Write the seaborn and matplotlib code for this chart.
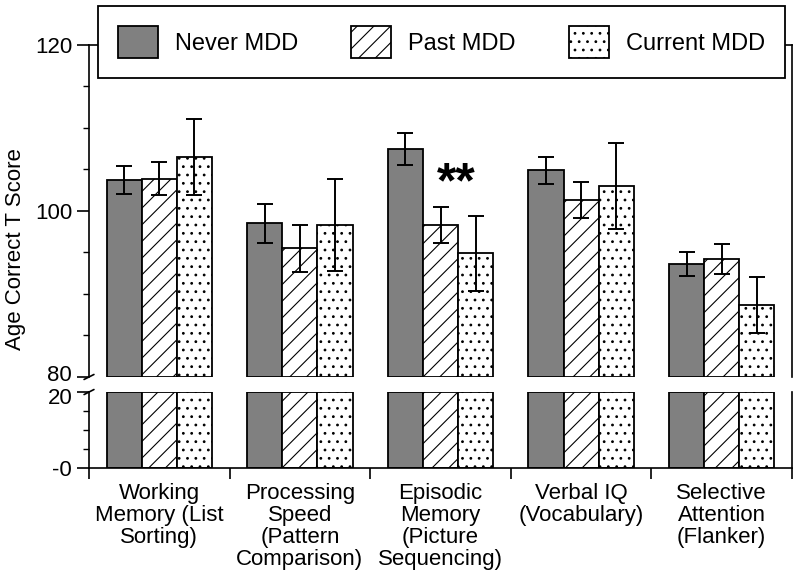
import numpy as np
import pandas as pd
import seaborn as sns
import matplotlib.pyplot as plt
import matplotlib.transforms as mtransforms
from matplotlib.patches import Patch

domains = ["Working\nMemory (List\nSorting)", "Processing\nSpeed\n(Pattern\nComparison)",
           "Episodic\nMemory\n(Picture\nSequencing)", "Verbal IQ\n(Vocabulary)",
           "Selective\nAttention\n(Flanker)"]
groups = ["Never MDD", "Past MDD", "Current MDD"]

never_mean = [103.7, 98.5, 107.5, 104.9, 93.6]
never_err = [1.7, 2.3, 1.95, 1.6, 1.4]
past_mean = [103.9, 95.5, 98.3, 101.3, 94.2]
past_err = [2.0, 2.8, 2.2, 2.15, 1.8]
current_mean = [106.5, 98.3, 94.9, 103.0, 88.7]
current_err = [4.6, 5.5, 4.5, 5.2, 3.4]

means = [never_mean, past_mean, current_mean]
errs = [never_err, past_err, current_err]
colors = {"Never MDD": "#808080", "Past MDD": "white", "Current MDD": "white"}
hatches = ["", "//", ".."]

df = pd.DataFrame({
    "domain": np.tile(domains, 3),
    "group": np.repeat(groups, 5),
    "score": np.concatenate(means),
})

sns.set_style("ticks")
plt.rcParams["font.family"] = ["Liberation Sans", "DejaVu Sans"]
plt.rcParams["hatch.linewidth"] = 0.8
plt.rcParams["hatch.color"] = "black"
for key in ["text.color", "axes.labelcolor", "xtick.color", "ytick.color", "axes.edgecolor"]:
    plt.rcParams[key] = "black"

fig = plt.figure(figsize=(8, 5.84), dpi=100)
ax_top = fig.add_axes([0.11125, 0.3545, 0.87875, 0.5685])
ax_bot = fig.add_axes([0.11125, 0.1986, 0.87875, 0.1301])

for ax, lims in [(ax_top, (80, 120)), (ax_bot, (0, 20))]:
    sns.barplot(data=df, x="domain", y="score", hue="group", hue_order=groups,
                palette=colors, saturation=1, width=0.75, errorbar=None,
                edgecolor="black", linewidth=1.3, legend=False, ax=ax)
    ax.set_ylim(*lims)
    ax.set_xlim(-0.5, 4.5)
    ax.set_xlabel("")
    ax.set_ylabel("")
    lo, hi = lims
    # clamp bars to the visible window so each panel shows closed boxes
    for i, p in enumerate(ax.patches):
        y0, y1 = p.get_y(), p.get_y() + p.get_height()
        p.set_y(max(y0, lo))
        p.set_height(min(y1, hi) - max(y0, lo))
        p.set_hatch(hatches[i // 5])
    for s in ax.spines.values():
        s.set_linewidth(1.2)

# error bars on top panel
for k in range(3):
    bars = ax_top.patches[k * 5:(k + 1) * 5]
    xs = [p.get_x() + p.get_width() / 2 for p in bars]
    ax_top.errorbar(xs, means[k], yerr=errs[k], fmt="none", ecolor="black",
                    elinewidth=1.4, capsize=5.8, capthick=1.4, zorder=5)

ax_top.text(2.11, 103.2, "**", fontsize=36, fontweight="bold", ha="center", va="center")

# top panel axes
ax_top.spines["bottom"].set_visible(False)
ax_top.set_xticks([])
ax_top.set_yticks([80, 100, 120])
ax_top.set_yticks(np.arange(80, 121, 5), minor=True)
ax_top.tick_params(axis="y", which="major", length=8.6, width=1.2, labelsize=16, pad=3.5)
ax_top.tick_params(axis="y", which="minor", length=4.3, width=1.0)

# bottom panel axes
ax_bot.spines["top"].set_visible(False)
ax_bot.set_yticks([0, 20])
ax_bot.set_yticklabels(["-0", "20"])
ax_bot.set_yticks([5, 10, 15], minor=True)
ax_bot.tick_params(axis="y", which="major", length=8.6, width=1.2, labelsize=16, pad=3.5)
ax_bot.tick_params(axis="y", which="minor", length=4.3, width=1.0)
ax_bot.set_xticks(np.arange(-0.5, 5, 1))
ax_bot.set_xticklabels([])
ax_bot.set_xticks(range(5), minor=True)
ax_bot.set_xticklabels(domains, minor=True, fontsize=16, linespacing=1.05)
ax_bot.tick_params(axis="x", which="major", length=8, width=1.2)
ax_bot.tick_params(axis="x", which="minor", length=0, pad=11)

# nudge the two labels at the break apart
fig.canvas.draw()
up = mtransforms.ScaledTranslation(0, 2.5 / 72, fig.dpi_scale_trans)
down = mtransforms.ScaledTranslation(0, -2.5 / 72, fig.dpi_scale_trans)
for lab in ax_top.get_yticklabels():
    if lab.get_text() == "80":
        lab.set_transform(lab.get_transform() + up)
for lab in ax_bot.get_yticklabels():
    if lab.get_text() == "20":
        lab.set_transform(lab.get_transform() + down)

# break marks on left spine
kw = dict(color="black", lw=1.2, clip_on=False)
ax_top.plot([-0.007, 0.007], [-0.0075, 0.0075], transform=ax_top.transAxes, **kw)
ax_bot.plot([-0.007, 0.007], [0.967, 1.033], transform=ax_bot.transAxes, **kw)

fig.text(0.02, 0.5736, "Age Correct T Score", rotation=90, ha="center", va="center", fontsize=16)

handles = [Patch(facecolor=colors[g], edgecolor="black", hatch=h, linewidth=1.3)
           for g, h in zip(groups, hatches)]
leg = fig.legend(handles, groups, loc="upper left", bbox_to_anchor=(97.7 / 800, 1 - 6 / 584),
                 ncol=3, frameon=True, fancybox=False, edgecolor="black", framealpha=1,
                 fontsize=17, handlelength=1.7, handleheight=1.7, handletextpad=0.72,
                 columnspacing=2.25, borderpad=0.85, borderaxespad=0)
leg.get_frame().set_linewidth(1.3)

fig.savefig("out.png", dpi=100)
